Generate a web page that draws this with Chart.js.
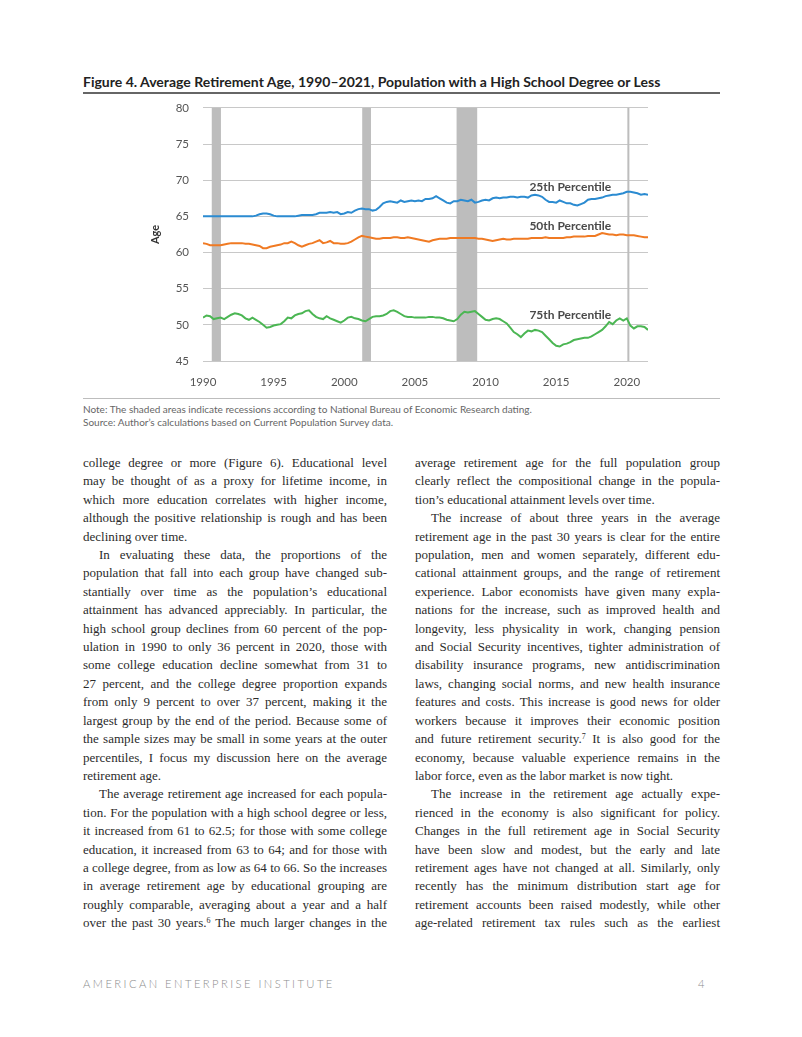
<!DOCTYPE html>
<html>
<head>
<meta charset="utf-8">
<script src="https://cdn.jsdelivr.net/npm/chart.js@4.4.1/dist/chart.umd.min.js"></script>
<style>
  html, body { margin: 0; padding: 0; background: #fff; }
  #page { position: relative; width: 802px; height: 1037px; overflow: hidden; }
  .title { position: absolute; left: 83px; top: 73px; font: bold 14px Lato, sans-serif; color: #222; white-space: nowrap; line-height: 17px; }
  .rule { position: absolute; left: 83px; width: 637px; top: 92px; height: 1.5px; background: #666; }
  .rule2 { position: absolute; left: 83px; width: 637px; top: 398px; height: 1px; background: #bdbdbd; }
  #chartBox { position: absolute; left: 140px; top: 87px; width: 520px; height: 308px; }
  .notes { position: absolute; left: 83px; top: 403px; font: 10px Lato, sans-serif; color: #666; line-height: 13px; white-space: nowrap; }
  .col { position: absolute; top: 454px; font: 13px "Liberation Serif", serif; color: #2b2b2b; line-height: 18.4px; }
  .col div { white-space: nowrap; }
  .j { text-align: justify; text-align-last: justify; }
  .e { text-align: left; }
  .i { text-indent: 16px; }
  sup { font-size: 8px; line-height: 0; vertical-align: 4px; }
  .footer { position: absolute; top: 977px; font: 300 11.2px Lato, sans-serif; color: #8c8c8c; letter-spacing: 2.45px; }
</style>
</head>
<body>
<div id="page">
  <div class="title">Figure 4. Average Retirement Age, 1990–2021, Population with a High School Degree or Less</div>
  <div class="rule"></div>
  <div id="chartBox"><canvas id="ageChart"></canvas></div>
  <div class="rule2"></div>
  <div class="notes">Note: The shaded areas indicate recessions according to National Bureau of Economic Research dating.<br>Source: Author’s calculations based on Current Population Survey data.</div>

  <div class="col" style="left:83px; width:304px;">
    <div class="j">college degree or more (Figure 6). Educational level</div>
    <div class="j">may be thought of as a proxy for lifetime income, in</div>
    <div class="j">which more education correlates with higher income,</div>
    <div class="j">although the positive relationship is rough and has been</div>
    <div class="e">declining over time.</div>
    <div class="j i">In evaluating these data, the proportions of the</div>
    <div class="j">population that fall into each group have changed sub-</div>
    <div class="j">stantially over time as the population’s educational</div>
    <div class="j">attainment has advanced appreciably. In particular, the</div>
    <div class="j">high school group declines from 60 percent of the pop-</div>
    <div class="j">ulation in 1990 to only 36 percent in 2020, those with</div>
    <div class="j">some college education decline somewhat from 31 to</div>
    <div class="j">27 percent, and the college degree proportion expands</div>
    <div class="j">from only 9 percent to over 37 percent, making it the</div>
    <div class="j">largest group by the end of the period. Because some of</div>
    <div class="j">the sample sizes may be small in some years at the outer</div>
    <div class="j">percentiles, I focus my discussion here on the average</div>
    <div class="e">retirement age.</div>
    <div class="j i">The average retirement age increased for each popula-</div>
    <div class="j">tion. For the population with a high school degree or less,</div>
    <div class="j">it increased from 61 to 62.5; for those with some college</div>
    <div class="j">education, it increased from 63 to 64; and for those with</div>
    <div class="j">a college degree, from as low as 64 to 66. So the increases</div>
    <div class="j">in average retirement age by educational grouping are</div>
    <div class="j">roughly comparable, averaging about a year and a half</div>
    <div class="j">over the past 30 years.<sup>6</sup> The much larger changes in the</div>
  </div>

  <div class="col" style="left:415px; width:305px;">
    <div class="j">average retirement age for the full population group</div>
    <div class="j">clearly reflect the compositional change in the popula-</div>
    <div class="e">tion’s educational attainment levels over time.</div>
    <div class="j i">The increase of about three years in the average</div>
    <div class="j">retirement age in the past 30 years is clear for the entire</div>
    <div class="j">population, men and women separately, different edu-</div>
    <div class="j">cational attainment groups, and the range of retirement</div>
    <div class="j">experience. Labor economists have given many expla-</div>
    <div class="j">nations for the increase, such as improved health and</div>
    <div class="j">longevity, less physicality in work, changing pension</div>
    <div class="j">and Social Security incentives, tighter administration of</div>
    <div class="j">disability insurance programs, new antidiscrimination</div>
    <div class="j">laws, changing social norms, and new health insurance</div>
    <div class="j">features and costs. This increase is good news for older</div>
    <div class="j">workers because it improves their economic position</div>
    <div class="j">and future retirement security.<sup>7</sup> It is also good for the</div>
    <div class="j">economy, because valuable experience remains in the</div>
    <div class="e">labor force, even as the labor market is now tight.</div>
    <div class="j i">The increase in the retirement age actually expe-</div>
    <div class="j">rienced in the economy is also significant for policy.</div>
    <div class="j">Changes in the full retirement age in Social Security</div>
    <div class="j">have been slow and modest, but the early and late</div>
    <div class="j">retirement ages have not changed at all. Similarly, only</div>
    <div class="j">recently has the minimum distribution start age for</div>
    <div class="j">retirement accounts been raised modestly, while other</div>
    <div class="j">age-related retirement tax rules such as the earliest</div>
  </div>

  <div class="footer" style="left:83px;">AMERICAN ENTERPRISE INSTITUTE</div>
  <div class="footer" style="left:698px; letter-spacing:0;">4</div>
</div>

<script>
// Quarterly averages, 1990 Q1 through 2021 Q3
const startYear = 1990;
const p25 = [
  65.0, 65.0, 65.0, 65.0,  65.0, 65.0, 65.0, 65.0,  65.0, 65.0, 65.0, 65.0,  65.0, 65.0, 65.0, 65.1,
  65.3, 65.4, 65.4, 65.3,  65.1, 65.0, 65.0, 65.0,  65.0, 65.0, 65.0, 65.1,  65.2, 65.2, 65.2, 65.2,
  65.3, 65.5, 65.5, 65.5,  65.6, 65.5, 65.6, 65.3,  65.4, 65.6, 65.5, 65.8,  66.0, 66.1, 66.0, 66.0,
  65.8, 65.9, 66.3, 66.8,  67.0, 67.1, 67.0, 66.9,  67.2, 67.0, 67.1, 67.2,  67.1, 67.2, 67.1, 67.4,
  67.4, 67.5, 67.8, 67.5,  67.2, 66.9, 66.8, 67.1,  67.1, 67.3, 67.2, 67.1,  67.3, 66.9, 67.0, 67.2,
  67.3, 67.2, 67.5, 67.6,  67.5, 67.6, 67.6, 67.7,  67.7, 67.6, 67.7, 67.7,  67.6, 67.9, 68.0, 67.9,
  67.7, 67.3, 67.0, 67.0,  66.9, 67.2, 67.0, 66.8,  66.8, 66.6, 66.5, 66.7,  66.9, 67.3, 67.4, 67.4,
  67.5, 67.6, 67.8, 67.9,  68.0, 68.0, 68.1, 68.2,  68.4, 68.4, 68.3, 68.2,  68.0, 68.1, 68.0
];
const p50 = [
  61.3, 61.2, 61.0, 61.0,  61.0, 61.0, 61.1, 61.2,  61.3, 61.3, 61.3, 61.3,  61.2, 61.2, 61.1, 61.0,
  60.9, 60.6, 60.6, 60.8,  60.9, 61.0, 61.1, 61.3,  61.3, 61.5, 61.3, 61.0,  60.8, 61.0, 61.2, 61.3,
  61.5, 61.7, 61.3, 61.4,  61.6, 61.3, 61.3, 61.2,  61.2, 61.3, 61.5, 61.8,  62.1, 62.3, 62.2, 62.1,
  62.0, 61.9, 61.9, 62.0,  62.0, 62.0, 62.1, 62.1,  62.0, 62.0, 62.1, 62.0,  61.9, 61.8, 61.7, 61.6,
  61.5, 61.7, 61.8, 61.9,  61.9, 61.9, 62.0, 62.0,  62.0, 62.0, 62.0, 62.0,  62.0, 62.0, 61.9, 61.9,
  61.8, 61.7, 61.6, 61.7,  61.8, 61.9, 61.8, 61.8,  61.9, 61.9, 61.9, 61.9,  61.9, 62.0, 62.0, 62.0,
  62.0, 62.1, 62.0, 62.0,  62.0, 62.0, 62.0, 62.1,  62.1, 62.2, 62.2, 62.2,  62.2, 62.3, 62.3, 62.3,
  62.5, 62.7, 62.6, 62.5,  62.5, 62.4, 62.5, 62.5,  62.4, 62.4, 62.4, 62.3,  62.2, 62.1, 62.1
];
const p75 = [
  51.0, 51.3, 51.2, 50.8,  50.9, 51.0, 50.8, 51.1,  51.4, 51.6, 51.5, 51.3,  50.9, 50.7, 51.0, 50.7,
  50.4, 50.0, 49.6, 49.7,  49.9, 50.0, 50.1, 50.5,  51.0, 50.9, 51.3, 51.5,  51.6, 51.9, 52.0, 51.5,
  51.1, 50.9, 50.8, 51.2,  50.9, 50.7, 50.5, 50.3,  50.6, 51.0, 51.1, 50.9,  50.8, 50.6, 50.5, 50.8,
  51.1, 51.2, 51.2, 51.3,  51.5, 51.9, 52.0, 51.8,  51.5, 51.2, 51.1, 51.1,  51.0, 51.0, 51.0, 51.0,
  51.1, 51.1, 51.0, 51.0,  50.9, 50.7, 50.6, 50.5,  50.8, 51.4, 51.8, 51.7,  51.8, 51.9, 51.5, 51.1,
  50.7, 50.6, 50.8, 50.9,  50.8, 50.5, 50.2, 49.6,  49.0, 48.7, 48.3, 48.8,  49.2, 49.1, 49.3, 49.2,
  49.0, 48.5, 48.0, 47.5,  47.1, 47.0, 47.3, 47.4,  47.6, 47.9, 48.0, 48.1,  48.2, 48.2, 48.4, 48.7,
  49.0, 49.3, 49.8, 50.4,  50.1, 50.6, 50.9, 50.6,  50.9, 49.9, 49.5, 49.8,  49.8, 49.7, 49.3
];
const seriesNames = ['25th Percentile', '50th Percentile', '75th Percentile'];
const seriesColors = ['#2b8bd1', '#f07a23', '#4bb653'];
const labelYears = [2016, 2016, 2016];
const labelAges = [69.1, 63.7, 51.4];

const xTicks = [1990, 1995, 2000, 2005, 2010, 2015, 2020];
const yTicks = [45, 50, 55, 60, 65, 70, 75, 80];

// NBER recessions
const recessionStart = [1990.62, 2001.27, 2007.95, 2020.04];
const recessionEnd = [1991.27, 2001.89, 2009.41, 2020.16];

function toPoints(values) {
    return values.map((v, i) => ({ x: startYear + i / 4, y: v }));
}

const recessionPlugin = {
    id: 'recessions',
    beforeDatasetsDraw(chart) {
        const { ctx, chartArea, scales } = chart;
        ctx.save();
        ctx.fillStyle = '#bdbdbd';
        recessionStart.forEach((s, i) => {
            const x0 = scales.x.getPixelForValue(s);
            const x1 = scales.x.getPixelForValue(recessionEnd[i]);
            ctx.fillRect(x0, chartArea.top, Math.max(x1 - x0, 2), chartArea.bottom - chartArea.top);
        });
        ctx.restore();
    },
    afterDatasetsDraw(chart) {
        const { ctx, scales } = chart;
        ctx.save();
        ctx.font = 'bold 12px Lato, sans-serif';
        ctx.fillStyle = '#4a4a4a';
        ctx.textAlign = 'center';
        ctx.textBaseline = 'middle';
        seriesNames.forEach((name, i) => {
            ctx.fillText(name, scales.x.getPixelForValue(labelYears[i]), scales.y.getPixelForValue(labelAges[i]));
        });
        ctx.restore();
    }
};

const ctx = document.getElementById('ageChart').getContext('2d');
new Chart(ctx, {
    type: 'line',
    data: {
        datasets: [p25, p50, p75].map((vals, i) => ({
            label: seriesNames[i],
            data: toPoints(vals),
            borderColor: seriesColors[i],
            borderWidth: 2,
            pointRadius: 0,
            tension: 0
        }))
    },
    options: {
        responsive: true,
        maintainAspectRatio: false,
        animation: false,
        layout: { padding: { top: 6, right: 12 } },
        plugins: { legend: { display: false }, tooltip: { enabled: false } },
        scales: {
            x: {
                type: 'linear',
                min: 1990,
                max: 2021.5,
                afterBuildTicks: (scale) => { scale.ticks = xTicks.map(v => ({ value: v })); },
                afterFit: (scale) => { scale.height = 34; },
                grid: { display: false },
                border: { display: false },
                ticks: {
                    padding: 6,
                    color: '#555',
                    font: { family: 'Lato', size: 11.5 },
                    callback: (v) => String(v),
                    maxRotation: 0
                }
            },
            y: {
                min: 45,
                max: 80,
                afterBuildTicks: (scale) => { scale.ticks = yTicks.map(v => ({ value: v })); },
                afterFit: (scale) => { scale.width = 63; },
                grid: { color: '#c8c8c8', lineWidth: 1, drawTicks: false },
                border: { display: false },
                ticks: {
                    padding: 14,
                    color: '#555',
                    font: { family: 'Lato', size: 11.5 }
                },
                title: {
                    display: true,
                    text: 'Age',
                    color: '#333',
                    font: { family: 'Lato', size: 11, weight: 'bold' },
                    padding: { top: 9, bottom: 0 }
                }
            }
        }
    },
    plugins: [recessionPlugin]
});
</script>
</body>
</html>
